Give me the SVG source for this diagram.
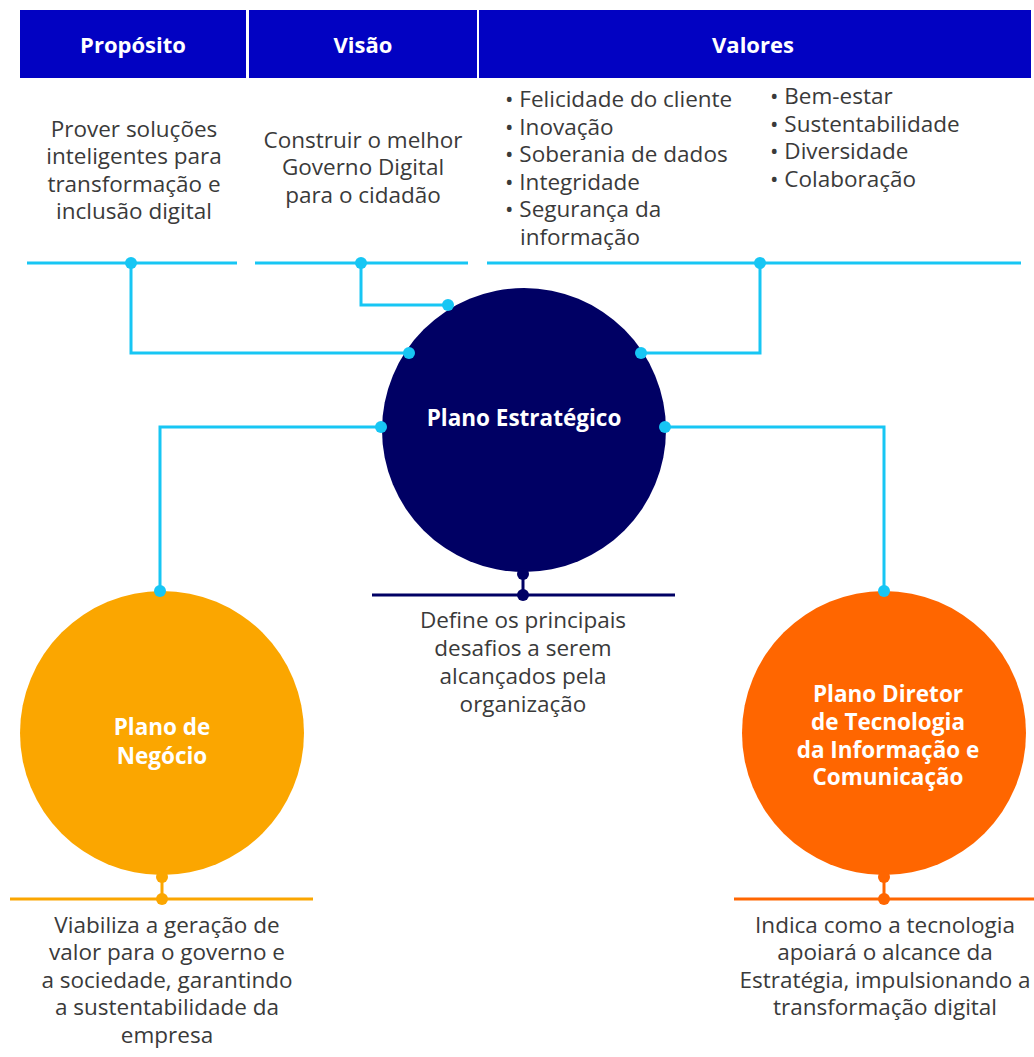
<svg xmlns="http://www.w3.org/2000/svg" width="1034" height="1057" viewBox="0 0 1034 1057">
<style>
.hdr{fill:#0202C2}
.ht{font-family:"Open Sans","Noto Sans",sans-serif;font-weight:bold;font-size:22px;fill:#fff;text-anchor:middle}
.t{font-family:"Open Sans","Noto Sans",sans-serif;font-size:22.5px;fill:#3a3a3a}
.c{text-anchor:middle}
.ct{font-family:"Open Sans","Noto Sans",sans-serif;font-weight:bold;font-size:22.5px;fill:#fff;text-anchor:middle}
.cy{stroke:#17C6F4;stroke-width:3;fill:none}
.cyd{fill:#17C6F4}
</style>
<rect width="1034" height="1057" fill="#fff"/>
<g id="header-proposito"><rect class="hdr" x="20" y="10" width="226" height="68"/><text class="ht" x="133" y="53">Propósito</text></g>
<g id="header-visao"><rect class="hdr" x="249" y="10" width="228" height="68"/><text class="ht" x="363" y="53">Visão</text></g>
<g id="header-valores"><rect class="hdr" x="479" y="10" width="552" height="68"/><text class="ht" x="753" y="53">Valores</text></g>
<g id="proposito-text" class="t c">
<text x="134" y="137">Prover soluções</text>
<text x="134" y="164">inteligentes para</text>
<text x="134" y="192">transformação e</text>
<text x="134" y="219">inclusão digital</text>
</g>
<g id="visao-text" class="t c">
<text x="363" y="148">Construir o melhor</text>
<text x="363" y="175">Governo Digital</text>
<text x="363" y="203">para o cidadão</text>
</g>
<g id="valores-text" class="t">
<text x="505" y="107">• Felicidade do cliente</text>
<text x="505" y="135">• Inovação</text>
<text x="505" y="162">• Soberania de dados</text>
<text x="505" y="190">• Integridade</text>
<text x="505" y="217">• Segurança da</text>
<text x="520" y="245">informação</text>
<text x="770" y="104">• Bem-estar</text>
<text x="770" y="132">• Sustentabilidade</text>
<text x="770" y="159">• Diversidade</text>
<text x="770" y="187">• Colaboração</text>
</g>
<g id="plano-estrategico">
<circle cx="524" cy="430" r="142" fill="#000064"/>
<text class="ct" x="524" y="426">Plano Estratégico</text>
<line x1="523" y1="573" x2="523" y2="595" stroke="#000064" stroke-width="3"/>
<circle cx="523" cy="574" r="6" fill="#000064"/>
<circle cx="523" cy="595" r="6" fill="#000064"/>
<line x1="372" y1="595" x2="675" y2="595" stroke="#000064" stroke-width="3"/>
<g class="t c">
<text x="523" y="628">Define os principais</text>
<text x="523" y="656">desafios a serem</text>
<text x="523" y="684">alcançados pela</text>
<text x="523" y="712">organização</text>
</g>
</g>
<g id="plano-negocio">
<circle cx="162" cy="733" r="142" fill="#FBA600"/>
<text class="ct" x="162" y="735">Plano de</text>
<text class="ct" x="162" y="764">Negócio</text>
<line x1="162" y1="876" x2="162" y2="899" stroke="#FBA600" stroke-width="3"/>
<circle cx="162" cy="877" r="6" fill="#FBA600"/>
<circle cx="162" cy="899" r="6" fill="#FBA600"/>
<line x1="10" y1="899" x2="313" y2="899" stroke="#FBA600" stroke-width="3"/>
<g class="t c">
<text x="167" y="933">Viabiliza a geração de</text>
<text x="167" y="960">valor para o governo e</text>
<text x="167" y="988">a sociedade, garantindo</text>
<text x="167" y="1015">a sustentabilidade da</text>
<text x="167" y="1043">empresa</text>
</g>
</g>
<g id="pdtic">
<circle cx="884" cy="733" r="142" fill="#FF6600"/>
<text class="ct" x="888" y="702">Plano Diretor</text>
<text class="ct" x="888" y="730">de Tecnologia</text>
<text class="ct" x="888" y="758">da Informação e</text>
<text class="ct" x="888" y="785">Comunicação</text>
<line x1="884" y1="876" x2="884" y2="899" stroke="#FF6600" stroke-width="3"/>
<circle cx="884" cy="877" r="6" fill="#FF6600"/>
<circle cx="884" cy="899" r="6" fill="#FF6600"/>
<line x1="734" y1="899" x2="1034" y2="899" stroke="#FF6600" stroke-width="3"/>
<g class="t c">
<text x="885" y="933">Indica como a tecnologia</text>
<text x="885" y="960">apoiará o alcance da</text>
<text x="885" y="988">Estratégia, impulsionando a</text>
<text x="885" y="1015">transformação digital</text>
</g>
</g>
<g id="connectors">
<line class="cy" x1="27" y1="263" x2="237" y2="263"/>
<line class="cy" x1="255" y1="263" x2="468" y2="263"/>
<line class="cy" x1="487" y1="263" x2="1021" y2="263"/>
<polyline class="cy" points="131,263 131,353 409,353"/>
<polyline class="cy" points="361,263 361,305 448,305"/>
<polyline class="cy" points="760,263 760,353 641,353"/>
<polyline class="cy" points="381,427 160,427 160,591"/>
<polyline class="cy" points="665,427 884,427 884,591"/>
<circle class="cyd" cx="131" cy="263" r="6"/>
<circle class="cyd" cx="361" cy="263" r="6"/>
<circle class="cyd" cx="760" cy="263" r="6"/>
<circle class="cyd" cx="409" cy="353" r="6"/>
<circle class="cyd" cx="448" cy="305" r="6"/>
<circle class="cyd" cx="641" cy="353" r="6"/>
<circle class="cyd" cx="381" cy="427" r="6"/>
<circle class="cyd" cx="665" cy="427" r="6"/>
<circle class="cyd" cx="160" cy="591" r="6"/>
<circle class="cyd" cx="884" cy="591" r="6"/>
</g>
</svg>
